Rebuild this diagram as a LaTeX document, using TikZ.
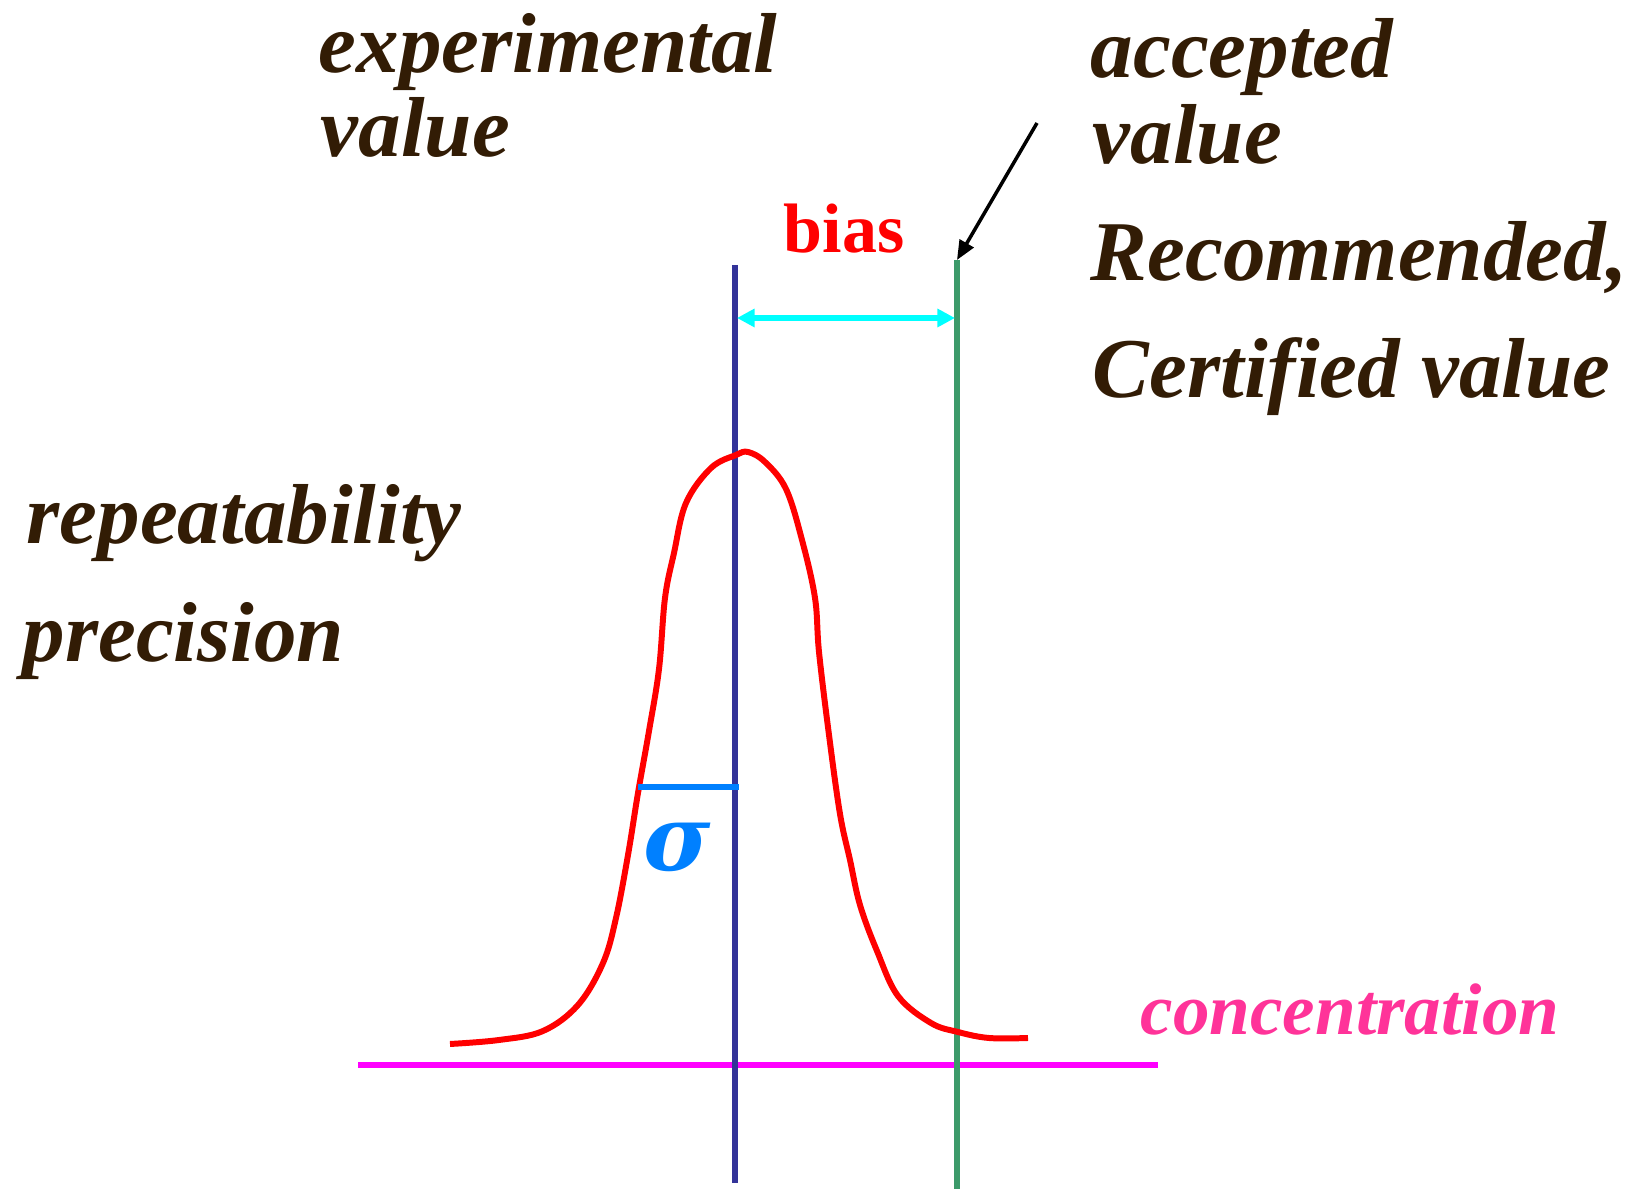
\documentclass[tikz,border=0pt]{standalone}
\usepackage{fontspec}
\setmainfont{Liberation Serif}
\newfontfamily\sigfont{DejaVu Serif}
\usepackage{xcolor}
\usetikzlibrary{arrows.meta}

\definecolor{txtbrown}{RGB}{50,28,5}
\definecolor{expblue}{RGB}{51,51,153}
\definecolor{accgreen}{RGB}{60,154,106}
\definecolor{sigblue}{RGB}{0,128,255}
\definecolor{concpink}{RGB}{255,51,153}
\definecolor{biascyan}{RGB}{0,255,255}
\definecolor{axmagenta}{RGB}{255,0,255}
\definecolor{curvered}{RGB}{255,0,0}

\tikzset{
  lbl/.style={font=\bfseries\itshape\fontsize{24.2}{26}\selectfont, text=txtbrown, inner sep=0pt, anchor=base west},
  vline/.style={line width=1.7pt},
}

\begin{document}
\begin{tikzpicture}[x=0.01cm, y=-0.01cm]
\useasboundingbox (0,0) rectangle (1642,1189);

% Text labels
\node[lbl] (exp1) at (318,73) {experimental};
\node[lbl] (exp2) at (320,157) {value};
\node[lbl] (acc1) at (1090,78) {accepted};
\node[lbl] (acc2) at (1092,164) {value};
\node[lbl] (rec) at (1090,281) {Recommended,};
\node[lbl] (cert) at (1092,398) {Certified value};
\node[lbl] (rep) at (26,544) {repeatability};
\node[lbl] (prec) at (22,662) {precision};
\node[lbl, text=concpink, font=\bfseries\itshape\fontsize{20.8}{22}\selectfont] (conc) at (1140,1035) {concentration};
\node[lbl, text=curvered, font=\bfseries\fontsize{19.9}{21}\selectfont] (bias) at (783,253) {bias};
\node[lbl, text=sigblue, font=\sigfont\bfseries\itshape\fontsize{26}{28}\selectfont] (sig) at (643,871) {σ};

% Axes and value lines
\coordinate (exptop) at (735,265);
\coordinate (expbot) at (735,1183);
\coordinate (acctop) at (957,260);
\coordinate (accbot) at (957,1189);
\coordinate (axl) at (358,1065);
\coordinate (axr) at (1158,1065);
\draw[vline, axmagenta] (axl) -- (axr);
\draw[vline, expblue] (exptop) -- (expbot);
\draw[vline, accgreen] (acctop) -- (accbot);

% Distribution curve
\draw[curvered, line width=1.7pt] plot[smooth, tension=0.6] coordinates {
  (450,1044) (499,1040) (543,1031) (578,1005) (603,963) (616,918) (628,855)
  (638,793) (649,731) (659,669) (665,598) (674,553) (686,503) (711,468)
  (736,455) (748,452) (765,462) (786,489) (802,540) (815,598) (819,652)
  (829,735) (840,814) (850,860) (860,905) (877,951) (898,996) (931,1023)
  (958,1032) (989,1038) (1028,1038)};

% Sigma bar
\coordinate (sigl) at (638,787);
\coordinate (sigr) at (739,787);
\draw[sigblue, line width=1.7pt] (sigl) -- (sigr);

% Bias arrow
\coordinate (biasl) at (737,318);
\coordinate (biasr) at (955,318);
\draw[biascyan, line width=1.7pt, {Triangle[length=5pt, width=5pt]}-{Triangle[length=5pt, width=5pt]}] (biasl) -- (biasr);

% Pointer to accepted value
\coordinate (ptr) at (1037,123);
\draw[black, line width=1pt, -{Triangle[length=5.5pt, width=4.5pt]}] (ptr) -- (acctop);

\end{tikzpicture}
\end{document}
